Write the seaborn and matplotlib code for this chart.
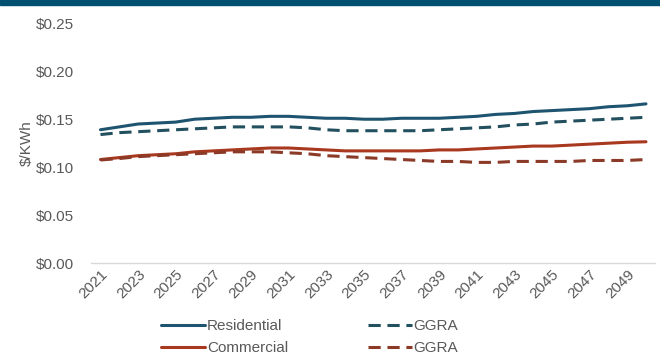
import matplotlib
matplotlib.use("Agg")
import matplotlib.pyplot as plt
import seaborn as sns
import pandas as pd

years = list(range(2021, 2051))
residential = [0.139, 0.142, 0.145, 0.146, 0.147, 0.150, 0.151, 0.152, 0.152, 0.153,
               0.153, 0.152, 0.151, 0.151, 0.150, 0.150, 0.151, 0.151, 0.151, 0.152,
               0.153, 0.155, 0.156, 0.158, 0.159, 0.160, 0.161, 0.163, 0.164, 0.166]
residential_ggra = [0.134, 0.136, 0.137, 0.138, 0.139, 0.140, 0.141, 0.142, 0.142, 0.142,
                    0.142, 0.141, 0.139, 0.138, 0.138, 0.138, 0.138, 0.138, 0.139, 0.140,
                    0.141, 0.142, 0.144, 0.145, 0.147, 0.148, 0.149, 0.150, 0.151, 0.152]
commercial = [0.108, 0.110, 0.112, 0.113, 0.114, 0.116, 0.117, 0.118, 0.119, 0.120,
              0.120, 0.119, 0.118, 0.117, 0.117, 0.117, 0.117, 0.117, 0.118, 0.118,
              0.119, 0.120, 0.121, 0.122, 0.122, 0.123, 0.124, 0.125, 0.126, 0.1265]
commercial_ggra = [0.1075, 0.109, 0.111, 0.112, 0.113, 0.114, 0.115, 0.116, 0.116, 0.116,
                   0.115, 0.114, 0.112, 0.111, 0.110, 0.109, 0.108, 0.107, 0.106, 0.106,
                   0.105, 0.105, 0.106, 0.106, 0.106, 0.106, 0.107, 0.107, 0.107, 0.108]
series_labels = ["Residential", "Commercial", "GGRA", "GGRA"]
tick_years = list(range(2021, 2050, 2))
y_ticks = [0.0, 0.05, 0.10, 0.15, 0.20, 0.25]

sns.set_theme(style="white")
plt.rcParams["font.family"] = ["Liberation Sans", "DejaVu Sans"]

fig = plt.figure(figsize=(6.6, 3.58), dpi=100)
ax = fig.add_axes([0.138, 0.265, 0.855, 0.67])

# top banner
fig.patches.append(plt.Rectangle((0, 1 - 5 / 358), 1, 5 / 358, transform=fig.transFigure,
                                 color="#00506F", zorder=10))

col_res = "#1E5470"
col_res_g = "#23505F"
col_com = "#A8381E"
col_com_g = "#8C3A28"

series = [
    (residential, series_labels[0], col_res, "-"),
    (commercial, series_labels[1], col_com, "-"),
    (residential_ggra, series_labels[2], col_res_g, "--"),
    (commercial_ggra, series_labels[3], col_com_g, "--"),
]
for vals, lab, col, ls in series:
    df = pd.DataFrame({"year": years, "value": vals})
    sns.lineplot(data=df, x="year", y="value", ax=ax, color=col, linewidth=2.2,
                 label=lab, linestyle=ls)
for line in ax.get_lines():
    if line.get_linestyle() == "--":
        line.set_dashes([4.0, 2.2])

fs = 11
ax.set_xlim(2020.5, 2050.5)
ax.set_ylim(0, 0.25)
ax.set_xticks(tick_years)
ax.set_xticklabels([str(y) for y in tick_years], rotation=45, ha="right",
                   rotation_mode="anchor", fontsize=fs, color="#595959")
ax.set_yticks(y_ticks)
ax.set_yticklabels([f"${v:.2f}" for v in y_ticks], fontsize=fs, color="#595959")
ax.tick_params(axis="both", length=0)
ax.tick_params(axis="y", pad=12)
ax.tick_params(axis="x", pad=3)
ax.set_xlabel("")
ax.set_ylabel("$/KWh", fontsize=fs, color="#595959", labelpad=2)
for s in ["top", "right", "left"]:
    ax.spines[s].set_visible(False)
ax.spines["bottom"].set_color("#D9D9D9")
ax.spines["bottom"].set_linewidth(1.0)

handles, labels = ax.get_legend_handles_labels()
ax.legend(handles, labels, ncol=2, loc="center", bbox_to_anchor=(0.469, 0.058),
          bbox_transform=fig.transFigure, frameon=False, fontsize=fs,
          handlelength=2.9, handletextpad=0.1, columnspacing=5.2,
          labelspacing=0.5, labelcolor="#595959")

fig.savefig("out.png", dpi=100, facecolor="white")
